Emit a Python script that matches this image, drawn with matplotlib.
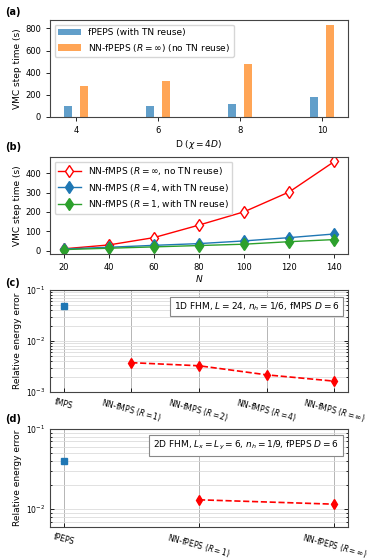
import matplotlib
matplotlib.use("Agg")
import matplotlib.pyplot as plt
import numpy as np

# ---------- data ----------
D_vals = [4, 6, 8, 10]
fpeps_time = [97, 103, 121, 178]
nnfpeps_time = [278, 329, 478, 835]

N_vals = [20, 40, 60, 80, 100, 120, 140]
t_Rinf = [9, 29, 67, 132, 201, 304, 462]
t_R4 = [8, 17, 27, 36, 50, 67, 86]
t_R1 = [5, 12, 19, 26, 33, 46, 57]

c_labels = ["fMPS", r"NN-fMPS ($R=1$)", r"NN-fMPS ($R=2$)", r"NN-fMPS ($R=4$)", r"NN-fMPS ($R=\infty$)"]
c_fmps = [0.0484]
c_nn = [0.00376, 0.00327, 0.00217, 0.00163]

d_labels = ["fPEPS", r"NN-fPEPS ($R=1$)", r"NN-fPEPS ($R=\infty$)"]
d_fpeps = [0.0394]
d_nn = [0.0131, 0.01155]

W, H = 373, 560
fs = 6
plt.rcParams['font.family'] = ['DejaVu Sans']
plt.rcParams['font.size'] = fs
plt.rcParams['axes.edgecolor'] = '#444444'
plt.rcParams['axes.linewidth'] = 0.8
fig = plt.figure(figsize=(W/100, H/100), dpi=100)

def ax_at(left, right, top, bottom):
    return fig.add_axes([left/W, 1-bottom/H, (right-left)/W, (bottom-top)/H])

# ---------- (a) ----------
ax = ax_at(50, 348, 20, 117)
x = np.array(D_vals, dtype=float)
ax.bar(x-0.2, fpeps_time, width=0.2, color='tab:blue', alpha=0.7, label='fPEPS (with TN reuse)')
ax.bar(x+0.2, nnfpeps_time, width=0.2, color='tab:orange', alpha=0.7, label=r'NN-fPEPS ($R=\infty$) (no TN reuse)')
ax.set_xticks(D_vals)
ax.set_xlabel(r'D ($\chi=4D$)', fontsize=fs+0.5, labelpad=2)
ax.set_ylabel('VMC step time (s)', fontsize=fs+0.5, labelpad=2)
ax.tick_params(labelsize=fs, length=3, width=0.6)
ax.legend(loc='upper left', fontsize=fs+0.5, frameon=True, handlelength=2.5)
fig.text(5/W, 1-12/H, '(a)', fontsize=7, fontweight='bold', va='center')

# ---------- (b) ----------
ax = ax_at(50, 348, 157, 254)
ax.plot(N_vals, t_Rinf, color='red', marker='d', mfc='white', mec='red', ms=6.5, lw=1,
        label=r'NN-fMPS ($R=\infty$, no TN reuse)')
ax.plot(N_vals, t_R4, color='tab:blue', marker='d', ms=6.5, lw=1,
        label=r'NN-fMPS ($R=4$, with TN reuse)')
ax.plot(N_vals, t_R1, color='tab:green', marker='d', ms=6.5, lw=1,
        label=r'NN-fMPS ($R=1$, with TN reuse)')
ax.set_xticks(N_vals)
ax.set_yticks([0, 100, 200, 300, 400])
ax.set_xlabel(r'$N$', fontsize=fs+0.5, labelpad=1)
ax.set_ylabel('VMC step time (s)', fontsize=fs+0.5, labelpad=2)
ax.tick_params(labelsize=fs, length=3, width=0.6)
ax.legend(loc='upper left', fontsize=fs+0.5, frameon=True, handlelength=2.5)
fig.text(5/W, 1-147/H, '(b)', fontsize=7, fontweight='bold', va='center')

def err_panel(ax, labels, first, nn, box, ylim):
    xs = np.arange(len(labels))
    ax.set_yscale('log')
    ax.plot([xs[0]], first, 's', color='tab:blue', ms=5)
    ax.plot(xs[1:], nn, '--', color='red', marker='d', ms=5.5, lw=1.2)
    ax.set_xticks(xs)
    ax.set_xticklabels(labels, rotation=-15, ha='center', fontsize=fs-0.5)
    ax.set_ylim(*ylim)
    ax.set_xlim(xs[0]-0.05*(len(xs)-1), xs[-1]+0.05*(len(xs)-1))
    ax.grid(True, which='major', axis='x', color='#b5b5b5', lw=0.7)
    ax.grid(True, which='both', axis='y', color='#dcdcdc', lw=0.6)
    ax.set_axisbelow(True)
    ax.tick_params(which='both', direction='in', right=True, labelsize=fs-0.5, width=0.6)
    ax.tick_params(which='major', length=3)
    ax.tick_params(which='minor', length=1.5)
    ax.set_ylabel('Relative energy error', fontsize=fs+0.5, labelpad=3)
    ax.text(0.97, 0.9, box, transform=ax.transAxes, ha='right', va='top', fontsize=fs+0.5,
            bbox=dict(boxstyle='square,pad=0.4', fc='white', ec='#888888', lw=0.8))

# ---------- (c) ----------
ax = ax_at(50, 348, 290, 392)
err_panel(ax, c_labels, c_fmps, c_nn, r'1D FHM, $L=24$, $n_h=1/6$, fMPS $D=6$', (1e-3, 1e-1))
fig.text(5/W, 1-283/H, '(c)', fontsize=7, fontweight='bold', va='center')

# ---------- (d) ----------
ax = ax_at(50, 348, 429, 527)
err_panel(ax, d_labels, d_fpeps, d_nn, r'2D FHM, $L_x=L_y=6$, $n_h=1/9$, fPEPS $D=6$', (6e-3, 1e-1))
fig.text(5/W, 1-419/H, '(d)', fontsize=7, fontweight='bold', va='center')

fig.savefig('out.png', dpi=100)
